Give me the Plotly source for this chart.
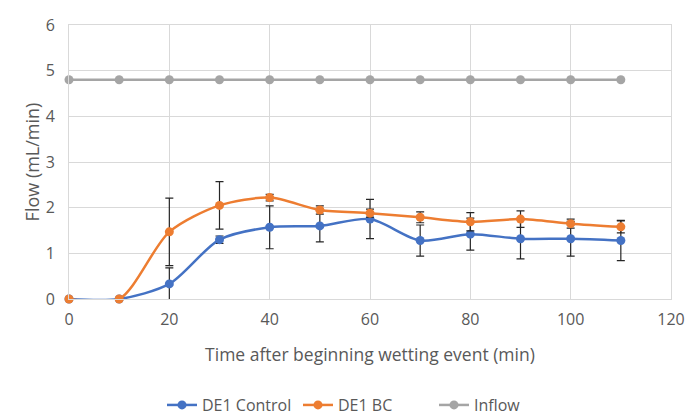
import plotly.graph_objects as go

time = [0, 10, 20, 30, 40, 50, 60, 70, 80, 90, 100, 110]
control = [0, 0, 0.33, 1.30, 1.57, 1.60, 1.75, 1.28, 1.42, 1.32, 1.32, 1.28]
control_err = [0, 0, 0.35, 0.08, 0.47, 0.35, 0.43, 0.34, 0.35, 0.44, 0.38, 0.44]
bc = [0, 0, 1.47, 2.05, 2.22, 1.95, 1.88, 1.79, 1.69, 1.75, 1.65, 1.58]
bc_err = [0, 0, 0.74, 0.52, 0.07, 0.09, 0.09, 0.12, 0.20, 0.18, 0.10, 0.13]
inflow = [4.8] * 12

font = "Open Sans, Liberation Sans, sans-serif"
grey_txt = "#595959"

fig = go.Figure()
fig.add_trace(go.Scatter(
    x=time, y=control, name="DE1 Control", mode="lines+markers",
    line=dict(color="#4472C4", width=2.5, shape="spline", smoothing=0.8),
    marker=dict(size=9, color="#4472C4"),
    error_y=dict(type="data", array=control_err, visible=True, color="#262626", thickness=1.2, width=4),
))
fig.add_trace(go.Scatter(
    x=time, y=bc, name="DE1 BC", mode="lines+markers",
    line=dict(color="#ED7D31", width=2.5, shape="spline", smoothing=0.8),
    marker=dict(size=9, color="#ED7D31"),
    error_y=dict(type="data", array=bc_err, visible=True, color="#262626", thickness=1.2, width=4),
))
fig.add_trace(go.Scatter(
    x=time, y=inflow, name="Inflow", mode="lines+markers",
    line=dict(color="#A5A5A5", width=2.5),
    marker=dict(size=9, color="#A5A5A5"),
))

fig.update_layout(
    width=699, height=418,
    margin=dict(l=69, r=28, t=25, b=119),
    paper_bgcolor="white", plot_bgcolor="white",
    font=dict(family=font, size=16, color=grey_txt),
    showlegend=True,
    legend=dict(orientation="h", xref="container", x=162 / 699, xanchor="left",
                yref="container", y=0.031, yanchor="middle",
                entrywidth=91, entrywidthmode="pixels",
                font=dict(size=16, color=grey_txt), traceorder="normal"),
    xaxis=dict(
        range=[0, 120], tickvals=[0, 20, 40, 60, 80, 100, 120],
        showgrid=True, gridcolor="#D9D9D9", gridwidth=1,
        zeroline=False, showline=True, linecolor="#D9D9D9", mirror=True,
        ticks="", tickfont=dict(size=16, color=grey_txt), ticklabelstandoff=6,
        automargin=False,
        title=dict(text="Time after beginning wetting event (min)", font=dict(size=17.5, color=grey_txt), standoff=19),
    ),
    yaxis=dict(
        range=[0, 6], tickvals=[0, 1, 2, 3, 4, 5, 6],
        showgrid=True, gridcolor="#D9D9D9", gridwidth=1,
        zeroline=False, showline=True, linecolor="#D9D9D9", mirror=True,
        ticks="", tickfont=dict(size=16, color=grey_txt), ticklabelstandoff=10,
        automargin=False,
        title=dict(text="Flow (mL/min)", font=dict(size=18, color=grey_txt), standoff=1),
    ),
)
fig.update_traces(cliponaxis=False)

fig.write_html("out.html", config={"displayModeBar": False},
               post_script="document.body.style.margin='0';")
